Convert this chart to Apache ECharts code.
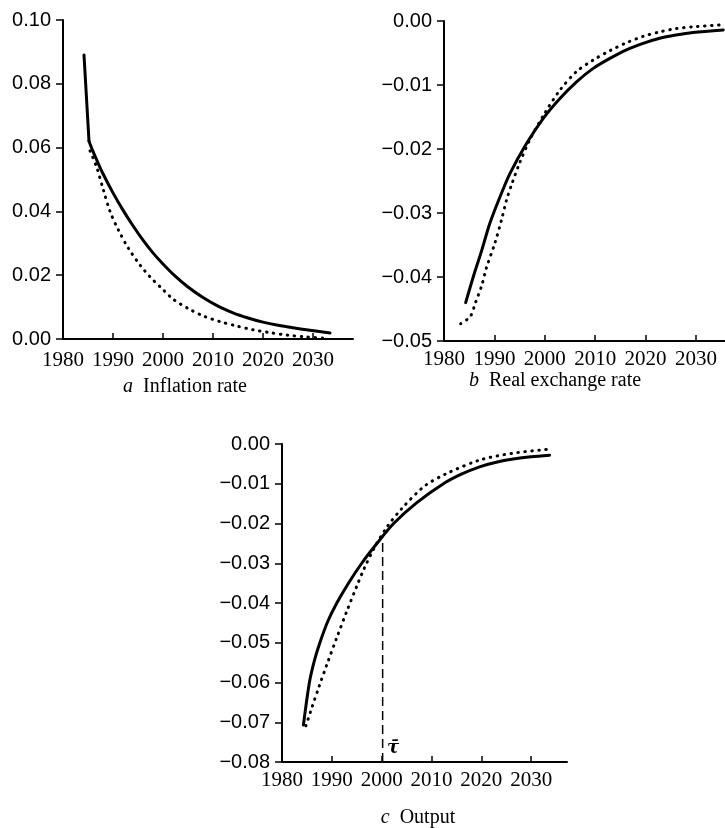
<!DOCTYPE html>
<html>
<head>
<meta charset="utf-8">
<script src="https://cdn.jsdelivr.net/npm/echarts@6/dist/echarts.min.js"></script>
<style>
html, body { margin: 0; padding: 0; background: #fff; }
#main { width: 725px; height: 828px; }
</style>
</head>
<body>
<div id="main"></div>
<script>
// a Inflation rate
var inflSolidYears = [1984.2, 1985.2, 1986.0, 1987.0, 1988.0, 1990.0, 1992.0, 1994.0, 1996.0, 1998.0, 2000.0, 2002.5, 2005.0, 2008.0, 2011.0, 2014.0, 2017.0, 2020.0, 2023.0, 2026.0, 2029.0, 2033.4];
var inflSolid = [0.089, 0.062, 0.0588, 0.0552, 0.0518, 0.0458, 0.0404, 0.0355, 0.0310, 0.0270, 0.0235, 0.0196, 0.0163, 0.0130, 0.0103, 0.0082, 0.0066, 0.0053, 0.0043, 0.0035, 0.0028, 0.0019];
var inflDotYears = [1985.4, 1986.7, 1988.1, 1989.4, 1991.1, 1993.1, 1995.4, 1997.4, 2000.0, 2002.1, 2005.0, 2008.1, 2011.5, 2014.7, 2018.0, 2021.4, 2025.0, 2028.1, 2032.7];
var inflDot = [0.059, 0.054, 0.0466, 0.040, 0.0341, 0.0284, 0.0232, 0.0195, 0.0155, 0.0124, 0.0096, 0.0072, 0.0054, 0.0041, 0.0029, 0.0020, 0.0012, 0.0007, 0.0002];

// b Real exchange rate
var rerSolidYears = [1984.3, 1985.8, 1987.5, 1989.1, 1991.1, 1993.1, 1996.4, 1999.7, 2003.0, 2006.3, 2009.6, 2013.0, 2016.2, 2019.5, 2022.8, 2026.0, 2029.4, 2035.4];
var rerSolid = [-0.0440, -0.0400, -0.0358, -0.0316, -0.0275, -0.0238, -0.0191, -0.0152, -0.0121, -0.0095, -0.0074, -0.0058, -0.0045, -0.0035, -0.0027, -0.0022, -0.0018, -0.0014];
var rerDotYears = [1983.3, 1985.2, 1986.2, 1987.5, 1988.4, 1990.1, 1991.4, 1992.4, 1993.4, 1995.0, 1997.0, 2000.0, 2003.0, 2006.3, 2009.6, 2013.0, 2016.2, 2019.5, 2022.8, 2026.0, 2029.4, 2035.4];
var rerDot = [-0.0473, -0.0462, -0.0441, -0.0413, -0.0386, -0.0347, -0.0311, -0.0280, -0.0256, -0.0222, -0.0186, -0.0144, -0.0108, -0.0079, -0.0061, -0.0046, -0.0034, -0.0024, -0.0017, -0.0012, -0.0009, -0.0006];

// c Output
var outSolidYears = [1984.3, 1985.5, 1986.5, 1987.6, 1989.2, 1991.0, 1993.4, 1996.0, 1999.0, 2002.4, 2007.0, 2012.4, 2016.0, 2019.8, 2023.0, 2026.4, 2030.0, 2033.7];
var outSolid = [-0.0707, -0.0600, -0.0545, -0.0500, -0.0446, -0.0400, -0.0349, -0.0300, -0.0251, -0.0200, -0.0148, -0.0100, -0.0076, -0.0057, -0.0046, -0.0038, -0.0032, -0.0028];
var outDotYears = [1984.8, 1986.0, 1987.5, 1989.0, 1991.0, 1993.0, 1995.0, 1996.5, 1998.5, 2001.0, 2004.0, 2008.6, 2013.1, 2019.8, 2026.4, 2033.8];
var outDot = [-0.0709, -0.0663, -0.0608, -0.0555, -0.0487, -0.0421, -0.0358, -0.0313, -0.0262, -0.0210, -0.0163, -0.0106, -0.0074, -0.0040, -0.0023, -0.0013];

// dashed marker in c
var tauYears = [2000.2, 2000.2];
var tauValues = [-0.08, -0.0236];

var xLabelYears = [1980, 1990, 2000, 2010, 2020, 2030];
var xTickYears = [1990, 2000, 2010, 2020, 2030];

function pairs(xs, ys) {
    var out = [];
    for (var i = 0; i < xs.length; i++) {
        out.push([xs[i], ys[i]]);
    }
    return out;
}

function yLabel(v) {
    var s = (Math.abs(v) < 1e-9 ? 0 : v).toFixed(2);
    return s.replace('-', '\u2212');
}

function makeX(idx, max, gap) {
    return {
        type: 'value',
        gridIndex: idx,
        min: 1980,
        max: max,
        axisLine: { show: true, onZero: false, lineStyle: { color: '#000', width: 2 } },
        axisTick: { show: true, inside: true, length: 6, customValues: xTickYears, lineStyle: { color: '#000', width: 1.5 } },
        axisLabel: {
            customValues: xLabelYears, color: '#000', fontFamily: 'Liberation Serif', fontSize: 21, margin: gap,
            formatter: function (v) { return String(Math.round(v)); }
        },
        splitLine: { show: false }
    };
}

function makeY(idx, min, max, step) {
    return {
        type: 'value',
        gridIndex: idx,
        min: min,
        max: max,
        interval: step,
        axisLine: { show: true, onZero: false, lineStyle: { color: '#000', width: 2 } },
        axisTick: { show: true, length: 7, lineStyle: { color: '#000', width: 1.5 } },
        axisLabel: { formatter: yLabel, color: '#000', fontFamily: 'Liberation Sans', fontSize: 20, margin: 12 },
        splitLine: { show: false }
    };
}

function solidLine(name, idx, data, smooth) {
    return {
        name: name, type: 'line', xAxisIndex: idx, yAxisIndex: idx,
        data: data, showSymbol: false, symbol: 'none',
        smooth: smooth,
        lineStyle: { color: '#000', width: 3, join: 'round', cap: 'round' }
    };
}

function dotLine(name, idx, data) {
    return {
        name: name, type: 'line', xAxisIndex: idx, yAxisIndex: idx,
        data: data, showSymbol: false, symbol: 'none',
        smooth: 0.3,
        lineStyle: { color: '#000', width: 3, type: [0.5, 6.5], cap: 'round' }
    };
}

function caption(x, y, letter, txt) {
    return {
        type: 'text', x: x, y: y,
        style: {
            text: '{i|' + letter + '}  ' + txt,
            fill: '#000',
            font: '20px "Liberation Serif"',
            align: 'center', verticalAlign: 'middle',
            textAlign: 'center', textVerticalAlign: 'middle',
            rich: { i: { fontStyle: 'italic', fontFamily: 'Liberation Serif', fontSize: 20 } }
        }
    };
}

var inflAll = pairs(inflSolidYears, inflSolid);

var myChart = echarts.init(document.getElementById('main'));

var option = {
    animation: false,
    backgroundColor: '#fff',
    grid: [
        { left: 63, top: 20, width: 290, height: 319 },
        { left: 444, top: 21, width: 281, height: 320 },
        { left: 282, top: 444, width: 285, height: 318 }
    ],
    xAxis: [makeX(0, 2038, 11), makeX(1, 2035.75, 8), makeX(2, 2037.2, 8)],
    yAxis: [makeY(0, 0, 0.10, 0.02), makeY(1, -0.05, 0, 0.01), makeY(2, -0.08, 0, 0.01)],
    series: [
        // initial jump drawn straight, the decay smooth
        solidLine('infl0', 0, inflAll.slice(0, 2), false),
        solidLine('infl', 0, inflAll.slice(1), 0.3),
        dotLine('infl2', 0, pairs(inflDotYears, inflDot)),
        solidLine('rer', 1, pairs(rerSolidYears, rerSolid), 0.3),
        dotLine('rer2', 1, pairs(rerDotYears, rerDot)),
        solidLine('out', 2, pairs(outSolidYears, outSolid), 0.3),
        dotLine('out2', 2, pairs(outDotYears, outDot)),
        {
            name: 'tau', type: 'line', xAxisIndex: 2, yAxisIndex: 2,
            data: pairs(tauYears, tauValues), showSymbol: false, symbol: 'none',
            lineStyle: { color: '#000', width: 1.5, type: [9, 5] }
        }
    ],
    graphic: [
        caption(185, 387, 'a', 'Inflation rate'),
        caption(555, 381, 'b', 'Real exchange rate'),
        caption(418, 818, 'c', 'Output'),
        {
            type: 'text', x: 393, y: 748,
            style: {
                text: '\u03c4\u0304', fill: '#000',
                font: 'italic bold 18px "DejaVu Serif"',
                align: 'center', verticalAlign: 'middle',
                textAlign: 'center', textVerticalAlign: 'middle'
            }
        }
    ]
};

myChart.setOption(option);
</script>
</body>
</html>
